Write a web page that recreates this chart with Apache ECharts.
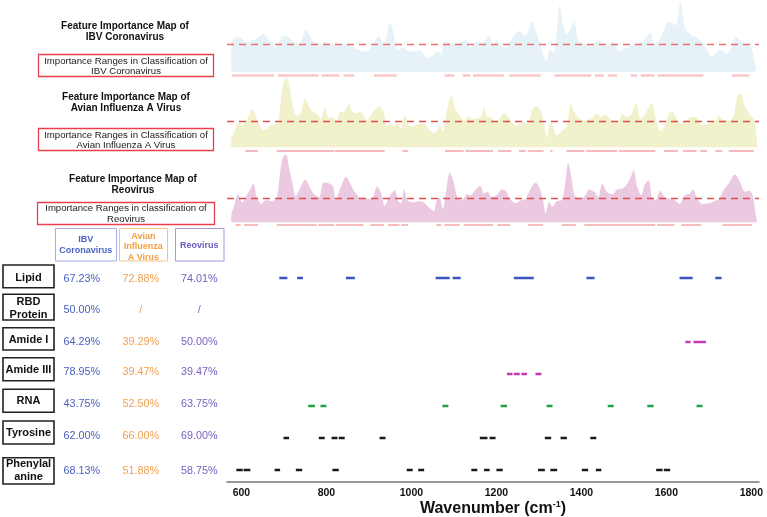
<!DOCTYPE html>
<html><head><meta charset="utf-8">
<script src="https://cdn.jsdelivr.net/npm/echarts@6/dist/echarts.min.js"></script>
<style>html,body{margin:0;padding:0;background:#fff}#c{width:767px;height:517px}</style>
</head><body><div id="c"></div>
<script>
// ---------- DATA ----------
const ibvWave = [576,586,598,610,622,635,651,663,671,679,687,700,712,724,736,752,765,777,789,797,809,822,838,854,866,879,895,907,923,935,950,960,968,980,992,1005,1017,1029,1037,1049,1062,1070,1078,1090,1102,1114,1128,1139,1151,1163,1175,1184,1192,1200,1212,1224,1236,1249,1257,1265,1273,1284,1293,1301,1310,1318,1326,1334,1340,1349,1358,1366,1375,1383,1391,1399,1411,1423,1440,1452,1464,1476,1488,1497,1509,1521,1537,1549,1563,1571,1582,1594,1605,1614,1623,1633,1643,1651,1659,1671,1684,1696,1708,1716,1728,1741,1753,1763,1773,1785,1798,1806,1812];
const ibvImp  = [85,98,100,85,90,95,110,92,88,70,85,105,100,85,82,122,95,82,78,88,80,78,80,82,70,62,58,75,102,82,142,100,65,70,62,58,62,52,40,45,60,52,90,85,80,85,92,70,88,84,92,105,75,92,75,70,95,115,118,105,112,145,115,90,50,32,65,55,90,192,130,110,125,145,100,85,80,78,90,75,78,88,60,65,70,80,85,95,115,80,90,120,145,140,135,202,130,115,105,100,85,65,42,55,65,52,70,102,92,82,78,40,5];

const avianWave = [576,584,592,602,614,626,639,649,657,667,679,687,694,701,708,716,724,732,740,750,761,771,781,787,796,805,815,823,831,842,853,861,870,879,887,895,907,923,934,942,952,960,968,975,980,986,992,1005,1017,1029,1041,1053,1062,1067,1074,1082,1090,1095,1102,1113,1124,1135,1143,1153,1163,1171,1179,1188,1196,1208,1216,1227,1236,1249,1261,1273,1284,1293,1301,1310,1319,1327,1334,1342,1354,1366,1375,1383,1393,1407,1423,1436,1446,1456,1466,1476,1488,1497,1506,1517,1529,1539,1549,1566,1576,1586,1594,1606,1614,1623,1635,1647,1659,1669,1680,1692,1704,1716,1724,1732,1745,1757,1767,1775,1785,1798,1806,1812,1815];
const avianImp  = [27,47,70,62,82,109,72,52,50,62,67,72,152,192,197,152,102,90,102,140,112,100,92,80,114,84,87,77,100,104,124,102,97,102,92,77,97,117,104,62,67,60,72,52,82,90,64,60,67,67,52,40,52,62,47,97,137,147,112,92,77,90,80,82,87,114,87,87,72,82,97,90,72,62,72,67,107,117,112,82,27,72,57,34,47,62,124,102,84,77,82,97,87,94,82,72,77,97,87,94,127,82,92,127,77,47,57,97,102,84,67,77,87,87,67,64,72,77,90,80,77,87,147,154,117,92,82,32,0];

const reoWave = [576,584,592,602,612,620,628,636,647,659,671,683,692,698,705,712,720,728,736,750,761,771,783,793,805,815,822,834,846,856,866,879,895,907,919,929,937,948,961,968,975,983,991,1005,1017,1029,1041,1053,1059,1066,1074,1082,1090,1098,1108,1118,1131,1139,1151,1162,1171,1179,1189,1200,1212,1222,1232,1245,1257,1269,1281,1292,1301,1310,1316,1324,1332,1342,1354,1362,1369,1376,1384,1395,1407,1419,1430,1440,1449,1460,1472,1484,1497,1509,1517,1523,1531,1541,1549,1558,1566,1574,1586,1596,1606,1619,1631,1643,1655,1663,1671,1684,1700,1712,1724,1737,1747,1761,1773,1785,1796,1804,1810,1814];
const reoImp  = [22,52,80,57,77,92,110,72,52,64,60,70,152,187,194,157,112,74,92,122,100,80,72,114,112,104,67,100,130,112,87,70,67,67,102,82,47,72,92,62,54,94,62,57,60,57,42,32,62,70,37,92,142,122,72,62,80,77,94,104,82,87,72,77,94,90,67,54,62,67,97,114,100,62,24,57,44,60,64,112,170,132,77,67,74,94,87,72,110,87,80,94,97,112,132,150,102,77,107,120,72,62,90,72,67,64,52,77,82,94,72,52,54,60,67,97,112,137,117,87,90,72,22,0];

const thresholds = [80, 75, 69];

const ibvRanges = [[578,677],[686,781],[789,830],[840,865],[912,965],[1078,1101],[1120,1138],[1145,1218],[1230,1304],[1336,1423],[1432,1453],[1462,1484],[1516,1531],[1540,1572],[1580,1687],[1754,1795]];
const avianRanges = [[609,639],[683,818],[820,937],[979,992],[1079,1123],[1127,1192],[1204,1235],[1253,1269],[1275,1311],[1327,1332],[1365,1407],[1411,1484],[1488,1574],[1594,1627],[1639,1671],[1680,1696],[1715,1732],[1747,1806]];
const reoRanges = [[586,598],[606,639],[683,777],[781,818],[822,887],[903,935],[945,972],[976,992],[1059,1070],[1078,1114],[1123,1192],[1202,1232],[1274,1310],[1354,1387],[1407,1574],[1578,1619],[1635,1682],[1732,1802]];

const lipidBands = [[689,708],[731,745],[846,867],[1057,1090],[1097,1116],[1241,1288],[1412,1431],[1631,1662],[1715,1730]];
const amide1Bands = [[1645,1657],[1664,1693]];
const amide3Bands = [[1225,1238],[1241,1255],[1259,1272],[1292,1306]];
const rnaBands = [[757,773],[786,800],[1073,1087],[1210,1225],[1318,1332],[1462,1476],[1555,1570],[1671,1685]];
const tyrBands = [[699,712],[782,796],[812,826],[829,843],[925,939],[1161,1179],[1184,1198],[1314,1329],[1351,1366],[1421,1435]];
const pheBands = [[588,603],[605,621],[678,691],[728,743],[814,829],[989,1003],[1016,1030],[1141,1155],[1171,1184],[1200,1215],[1298,1314],[1327,1343],[1401,1416],[1434,1447],[1576,1591],[1594,1609]];

const rowNames = ['Lipid','RBD\nProtein','Amide I','Amide III','RNA','Tyrosine','Phenylal\nanine'];
const ibvPct   = ['67.23%','50.00%','64.29%','78.95%','43.75%','62.00%','68.13%'];
const avianPct = ['72.88%','/','39.29%','39.47%','52.50%','66.00%','51.88%'];
const reoPct   = ['74.01%','/','50.00%','39.47%','63.75%','69.00%','58.75%'];
const xTicks = [600,800,1000,1200,1400,1600,1800];

// ---------- BUILD ----------
const XMIN = 566, XMAX = 1818;
const pairs = (xs, ys) => xs.map((x, i) => [x, ys[i]]);
const segs = (r, y) => r.map(([a, b]) => ({coords: [[a, y], [b, y]]}));
const FONT = '"Liberation Sans", Arial, sans-serif';

const grids = [
  {left: 227, width: 532, top: 0, height: 76, outerBoundsMode: 'none', containLabel: false},
  {left: 227, width: 532, top: 74, height: 78, outerBoundsMode: 'none', containLabel: false},
  {left: 227, width: 532, top: 149, height: 78, outerBoundsMode: 'none', containLabel: false},
  {left: 227, width: 532, top: 263, height: 219, outerBoundsMode: 'none', containLabel: false}
];
const xAxes = grids.map((gr, i) => ({
  gridIndex: i, type: 'value', min: XMIN, max: XMAX, show: i === 3,
  splitLine: {show: false}, axisTick: {show: false},
  axisLine: {show: i === 3, onZero: false, lineStyle: {color: '#777', width: 1.5}},
  axisLabel: {show: i === 3, customValues: xTicks, formatter: v => String(v),
    fontFamily: FONT, fontWeight: 'bold', fontSize: 10.5, color: '#111', margin: 6},
  name: i === 3 ? 'Wavenumber (cm{s|-1})' : '',
  nameLocation: 'middle', nameGap: 17,
  nameTextStyle: {fontFamily: FONT, fontWeight: 'bold', fontSize: 16, color: '#111',
    rich: {s: {fontFamily: FONT, fontWeight: 'bold', fontSize: 9, color: '#111', padding: [0, 0, 9, 0]}}}
}));
const yAxes = [
  {gridIndex: 0, type: 'value', min: -12, max: 208, show: false},
  {gridIndex: 1, type: 'value', min: -13.5, max: 210, show: false},
  {gridIndex: 2, type: 'value', min: -14, max: 210, show: false},
  {gridIndex: 3, type: 'value', min: -0.381, max: 6.452, show: false}
];
const areaColors = ['#e6f2f8', '#f1f1cb', '#ebc9e1'];
const dashColors = ['#ee7070', '#e64c4c', '#e64c4c'];
const areaData = [pairs(ibvWave, ibvImp), pairs(avianWave, avianImp), pairs(reoWave, reoImp)];
const series = [];
areaData.forEach((d, i) => {
  series.push({
    type: 'line', xAxisIndex: i, yAxisIndex: i, data: d, symbol: 'none', smooth: 0.3,
    lineStyle: {width: 0}, areaStyle: {color: areaColors[i], opacity: 1}, z: 1,
    markLine: {silent: true, symbol: ['none', 'none'], label: {show: false},
      lineStyle: {color: dashColors[i], type: [7, 5], width: 1.3}, data: [{yAxis: thresholds[i]}]}
  });
});
const rangeY = [-9, -10.6, -8.3];
const rangeStyle = [
  {color: 'rgba(240,105,105,0.75)', width: 2.6},
  {color: '#e84848', width: 1.5},
  {color: '#e85050', width: 1.5}
];
[ibvRanges, avianRanges, reoRanges].forEach((r, i) => {
  series.push({type: 'lines', coordinateSystem: 'cartesian2d', xAxisIndex: i, yAxisIndex: i,
    data: segs(r, rangeY[i]), lineStyle: rangeStyle[i], silent: true, z: 3});
});
const bottomRows = [
  [lipidBands, 6, '#3b56c2'],
  [amide1Bands, 4, '#c13aae'],
  [amide3Bands, 3, '#c13aae'],
  [rnaBands, 2, '#22a23e'],
  [tyrBands, 1, '#1a1a1a'],
  [pheBands, 0, '#1a1a1a']
];
bottomRows.forEach(([b, y, c]) => {
  series.push({type: 'lines', coordinateSystem: 'cartesian2d', xAxisIndex: 3, yAxisIndex: 3,
    data: segs(b, y), lineStyle: {color: c, width: 2.4, opacity: 1}, silent: true});
});

// ---------- LEFT PANEL (graphics) ----------
const g = [];
function txt(text, x, y, font, fill, lh) {
  g.push({type: 'text', x: x, y: y, silent: true,
    style: {text: text, font: font, fill: fill, align: 'center', verticalAlign: 'middle', lineHeight: lh || 12}});
}
function box(x, y, w, h, stroke, lw) {
  g.push({type: 'rect', silent: true, shape: {x: x, y: y, width: w, height: h},
    style: {fill: '#fff', stroke: stroke, lineWidth: lw || 1}});
}
const titleFont = 'bold 10px ' + FONT;
const boxFont = '9.6px ' + FONT;
txt('Feature Importance Map of\nIBV Coronavirus', 125, 32, titleFont, '#111', 11);
box(38.5, 54.5, 175, 22, '#e8404e', 1.3);
txt('Importance Ranges in Classification of\nIBV Coronavirus', 126, 66, boxFont, '#222', 10);
txt('Feature Importance Map of\nAvian Influenza A Virus', 126, 103, titleFont, '#111', 11);
box(38.5, 128.5, 175, 22, '#e8404e', 1.3);
txt('Importance Ranges in Classification of\nAvian Influenza A Virus', 126, 140, boxFont, '#222', 10);
txt('Feature Importance Map of\nReovirus', 133, 184.5, titleFont, '#111', 11);
box(37.5, 202.5, 177, 22, '#e8404e', 1.3);
txt('Importance Ranges in classification of\nReovirus', 126, 214, boxFont, '#222', 10.5);

// column headers
box(55.5, 228.5, 61, 32.5, '#a3aee2', 1);
txt('IBV\nCoronavirus', 85.7, 245.5, 'bold 9px ' + FONT, '#4a62c8', 11);
box(119.5, 228.5, 48, 32.5, '#f5c38a', 1);
txt('Avian\nInfluenza\nA Virus', 143.3, 247, 'bold 9px ' + FONT, '#f0a040', 10.8);
box(175.5, 228.5, 48.5, 32.5, '#a898dc', 1);
txt('Reovirus', 199.3, 245.3, 'bold 9px ' + FONT, '#6e58c0');

const rowBox = [[265,287.7],[294.3,320],[327.7,350],[357.7,380.7],[389.3,412.3],[421,444],[457.7,484]];
const rowTextY = [277.7,308.3,340.3,370,401,433,470.5];
const valY = [278.7,310,341.7,371.7,404,436,470.7];
const valFont = '10.8px ' + FONT;
rowNames.forEach((n, i) => {
  box(3, rowBox[i][0], 51, rowBox[i][1] - rowBox[i][0], '#222', 1.6);
  txt(n, 28.5, rowTextY[i], 'bold 11px ' + FONT, '#111', i === 1 ? 13 : 12.4);
  txt(ibvPct[i], 81.7, valY[i], valFont, '#4a60c0');
  txt(avianPct[i], 140.7, valY[i], valFont, '#f0a050');
  txt(reoPct[i], 199.3, valY[i], valFont, '#7a60c0');
});

const chart = echarts.init(document.getElementById('c'), null, {renderer: 'canvas'});
chart.setOption({
  animation: false,
  backgroundColor: '#fff',
  grid: grids, xAxis: xAxes, yAxis: yAxes, series: series,
  graphic: {elements: g}
});
</script></body></html>
